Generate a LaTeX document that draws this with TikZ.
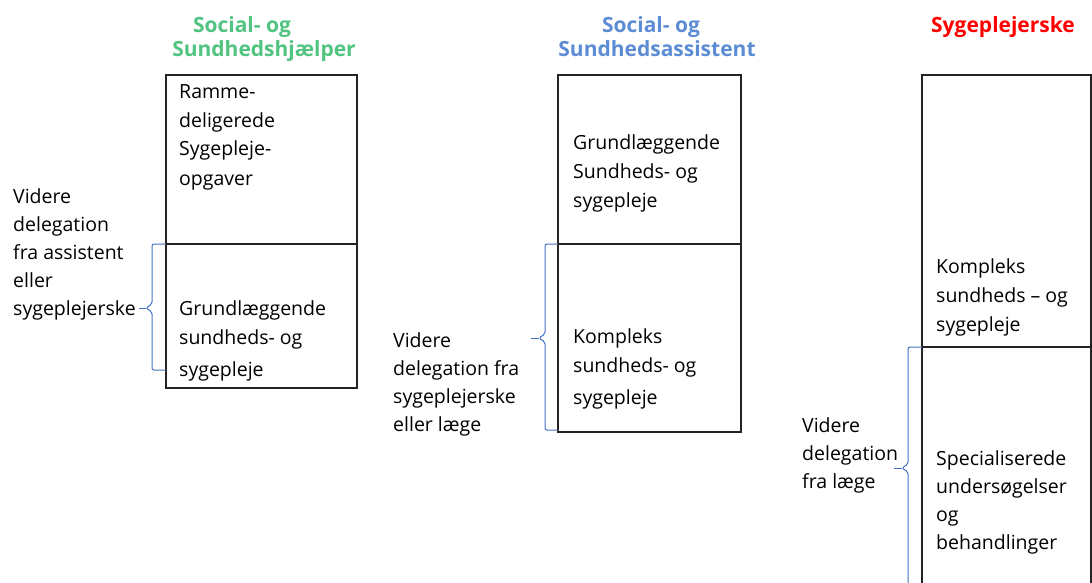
\documentclass[tikz,border=0pt]{standalone}
\usepackage{fontspec}
\setmainfont{Open Sans}
\definecolor{hjgreen}{RGB}{80,196,128}
\definecolor{assblue}{RGB}{92,140,212}
\definecolor{sygred}{RGB}{255,0,0}
\definecolor{braceblue}{RGB}{68,114,196}
\definecolor{boxline}{RGB}{35,35,35}
\tikzset{
  cell/.style={draw=boxline, line width=1.3pt, anchor=north west, inner sep=0pt, outer sep=0pt},
  txt/.style={anchor=base west, align=left, inner sep=0pt, font=\fontsize{19.5}{29}\selectfont},
  ttl/.style={anchor=base, inner sep=0pt, font=\fontsize{21}{24}\selectfont\bfseries},
  brc/.style={draw=braceblue, line width=1pt, rounded corners=2pt}
}
\begin{document}
\begin{tikzpicture}[x=1pt,y=-1pt]
  \useasboundingbox (0,0) rectangle (1092,583);
  \clip (0,0) rectangle (1092,583);

  \node[ttl, hjgreen] (t1a) at (242,33) {Social- og};
  \node[ttl, hjgreen] (t1b) at (264,57) {Sundhedshjælper};
  \node[ttl, assblue] (t2a) at (651,33) {Social- og};
  \node[ttl, assblue] (t2b) at (657,57) {Sundhedsassistent};
  \node[ttl, sygred] (t3) at (1003,33) {Sygeplejerske};

  \node[cell, minimum width=191, minimum height=169] (c1a) at (166,75) {};
  \node[cell, minimum width=191, minimum height=144] (c1b) at (166,244) {};
  \node[cell, minimum width=183, minimum height=169] (c2a) at (558,75) {};
  \node[cell, minimum width=183, minimum height=188] (c2b) at (558,244) {};
  \node[cell, minimum width=169, minimum height=272] (c3a) at (922,75) {};
  \node[cell, minimum width=169, minimum height=280] (c3b) at (922,347) {};

  \node[txt] (r1a) at (179,185) {Ramme-\\deligerede\\Sygepleje-\\opgaver};
  \node[txt] (r1b) at (179,376) {Grundlæggende\\sundheds- og\\[3pt]sygepleje};
  \node[txt] (r2a) at (573,207) {Grundlæggende\\Sundheds- og\\sygepleje};
  \node[txt] (r2b) at (573,404) {Kompleks\\sundheds- og\\[3pt]sygepleje};
  \node[txt] (r3a) at (936,331) {Kompleks\\sundheds -- og\\sygepleje};
  \node[txt, font=\fontsize{19.5}{28}\selectfont] (r3b) at (936,549) {Specialiserede\\undersøgelser\\og\\behandlinger};

  \node[txt, font=\fontsize{19.5}{28}\selectfont] (v1) at (13,315) {Videre\\delegation\\fra assistent\\eller\\sygeplejerske};
  \node[txt, font=\fontsize{19.5}{28}\selectfont] (v2) at (393,431) {Videre\\delegation fra\\sygeplejerske\\eller læge};
  \node[txt, font=\fontsize{19.5}{28}\selectfont] (v3) at (802,488) {Videre\\delegation\\fra læge};

  \coordinate (tip1) at (139,308);
  \coordinate (tip2) at (531,338);
  \coordinate (tip3) at (894,468);
  \draw[brc] (c1b.north west) -- (152,244) -- (152,304) -- (146,308) -- (152,312) -- (152,370) -- (166,370);
  \draw[brc] (tip1) -- (146,308);
  \draw[brc] (c2b.north west) -- (545,244) -- (545,334) -- (539,338) -- (545,342) -- (545,430) -- (558,430);
  \draw[brc] (tip2) -- (539,338);
  \draw[brc] (c3b.north west) -- (908,347) -- (908,464) -- (902,468) -- (908,472) -- (908,600);
  \draw[brc] (tip3) -- (902,468);
\end{tikzpicture}
\end{document}
